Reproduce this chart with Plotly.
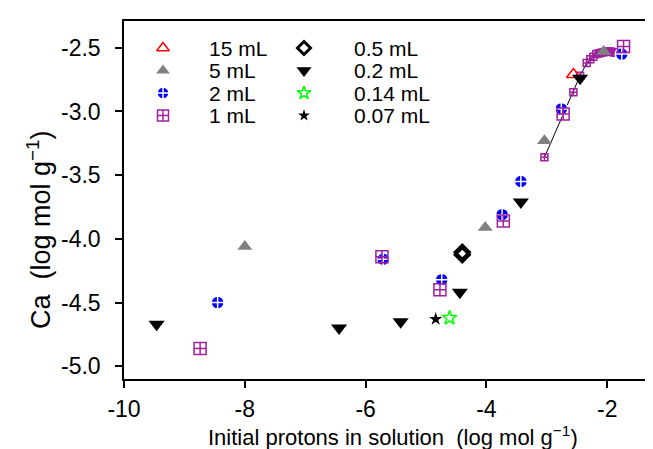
import plotly.graph_objects as go

# ---- data ----
x_15 = [-2.56]
y_15 = [-2.71]

x_5 = [-8.00, -4.02, -3.04, -2.06]
y_5 = [-4.06, -3.91, -3.23, -2.53]

x_2 = [-8.45, -5.71, -4.74, -3.74, -3.43, -2.76, -1.76]
y_2 = [-4.50, -4.16, -4.32, -3.81, -3.55, -2.98, -2.55]

x_1 = [-8.74, -5.73, -4.77, -3.72, -2.73, -1.73]
y_1 = [-4.86, -4.14, -4.40, -3.86, -3.02, -2.49]

x_05 = [-4.40, -4.40]
y_05 = [-4.105, -4.125]

x_02 = [-9.46, -6.44, -5.42, -4.44, -3.43, -2.45]
y_02 = [-4.67, -4.70, -4.65, -4.42, -3.71, -2.74]

x_014 = [-4.61]
y_014 = [-4.62]

x_007 = [-4.84]
y_007 = [-4.63]

# model curve with small markers
x_fit = [-3.04, -2.56, -2.45, -2.34, -2.28, -2.23, -2.18, -2.14, -2.10, -2.06,
         -2.02, -1.98, -1.94, -1.90, -1.86, -1.82, -1.78, -1.75]
y_fit = [-3.36, -2.85, -2.72, -2.62, -2.59, -2.57, -2.55, -2.545, -2.54, -2.535,
         -2.53, -2.53, -2.53, -2.535, -2.54, -2.54, -2.545, -2.55]

x_ticks = [-10, -8, -6, -4, -2]
x_ticktext = ["-10", "-8", "-6", "-4", "-2"]
y_ticks = [-2.5, -3.0, -3.5, -4.0, -4.5, -5.0]
y_ticktext = ["-2.5", "-3.0", "-3.5", "-4.0", "-4.5", "-5.0"]

legend_col1 = ["15 mL", "5 mL", "2 mL", "1 mL"]
legend_col2 = ["0.5 mL", "0.2 mL", "0.14 mL", "0.07 mL"]

PURPLE = "#A0209E"
FONT = "Liberation Sans, Arial, sans-serif"

# marker styles
S15 = dict(symbol="triangle-up-open", size=12, color="#FF0000", line=dict(width=1.5, color="#FF0000"))
S5 = dict(symbol="triangle-up", size=13, color="#808080", line=dict(width=0))
S2 = dict(symbol="circle-cross", size=13, color="#0000FF", line=dict(width=1.5, color="white"))
S1 = dict(symbol="square-cross-open", size=12, color=PURPLE, line=dict(width=1.5, color=PURPLE))
S05 = dict(symbol="diamond-open", size=11, color="black", line=dict(width=3, color="black"))
S02 = dict(symbol="triangle-down", size=14, color="black", line=dict(width=0))
S014 = dict(symbol="star-open", size=11, color="#00FF00", line=dict(width=1.5, color="#00FF00"))
S007 = dict(symbol="star", size=10, color="black", line=dict(width=0))

fig = go.Figure()

# fitted line
fig.add_trace(go.Scatter(x=x_fit, y=y_fit, mode="lines+markers", showlegend=False,
                         line=dict(color="black", width=1),
                         marker=dict(symbol="square-cross-open", size=7, color=PURPLE,
                                     line=dict(width=1.5, color=PURPLE))))

series = [
    (x_15, y_15, S15), (x_5, y_5, S5), (x_2, y_2, S2), (x_1, y_1, S1),
    (x_05, y_05, S05), (x_02, y_02, S02), (x_014, y_014, S014), (x_007, y_007, S007),
]
for xs, ys, st in series:
    fig.add_trace(go.Scatter(x=xs, y=ys, mode="markers", showlegend=False, marker=st))

# ---- hand-built two-column legend on an overlay axis (0..1 paper-like) ----
W, H = 653, 449
ML, MR, MT, MB = 116, 0, 13, 78
PW, PH = W - ML - MR, H - MT - MB


def px2x(px):
    return (px - ML) / PW


def py2y(py):
    return (H - MB - py) / PH


row_px = [40, 62.5, 85, 107.5]
col1_mark, col1_text = 155, 199
col2_mark, col2_text = 296, 344
styles1 = [S15, S5, S2, S1]
styles2 = [S05, S02, S014, S007]

annotations = []
for i in range(4):
    for mark_px, text_px, st, lab in ((col1_mark, col1_text, styles1[i], legend_col1[i]),
                                      (col2_mark, col2_text, styles2[i], legend_col2[i])):
        st_leg = dict(st)
        st_leg["size"] = st["size"] - 1
        fig.add_trace(go.Scatter(x=[px2x(mark_px)], y=[py2y(row_px[i])], mode="markers",
                                 xaxis="x2", yaxis="y2", showlegend=False, marker=st_leg,
                                 hoverinfo="skip"))
        annotations.append(dict(text=lab, xref="paper", yref="paper", x=px2x(text_px),
                                y=py2y(row_px[i]), xanchor="left", yanchor="middle",
                                showarrow=False, font=dict(family=FONT, size=21, color="black")))

annotations.append(dict(text="Ca  (log mol g<sup>\u22121</sup>)", xref="paper", yref="paper",
                        x=px2x(31), y=py2y(222), xanchor="center", yanchor="middle", textangle=-90,
                        showarrow=False, font=dict(family=FONT, size=27, color="black")))
annotations.append(dict(text="Initial protons in solution  (log mol g<sup>\u22121</sup>)",
                        xref="paper", yref="paper", x=px2x(385), y=py2y(428),
                        xanchor="center", yanchor="middle",
                        showarrow=False, font=dict(family=FONT, size=22, color="black")))

axis_common = dict(showgrid=False, zeroline=False, showline=True, linecolor="black", linewidth=1.5,
                   ticks="outside", ticklen=7, tickwidth=1.5, tickcolor="black",
                   tickfont=dict(family=FONT, size=23, color="black"))

fig.update_layout(
    width=W, height=H,
    margin=dict(l=ML, r=MR, t=MT, b=MB),
    paper_bgcolor="white", plot_bgcolor="white",
    font=dict(family=FONT, size=22, color="black"),
    showlegend=False,
    xaxis=dict(range=[-10, -1.11], tickvals=x_ticks, ticktext=x_ticktext, mirror=True,
               ticklabelstandoff=2, **axis_common),
    yaxis=dict(range=[-5.10, -2.29], tickvals=y_ticks, ticktext=y_ticktext,
               ticklabelstandoff=10, **axis_common),
    xaxis2=dict(range=[0, 1], overlaying="x", visible=False, fixedrange=True),
    yaxis2=dict(range=[0, 1], overlaying="y", visible=False, fixedrange=True),
    annotations=annotations,
)

fig.write_html("out.html")
